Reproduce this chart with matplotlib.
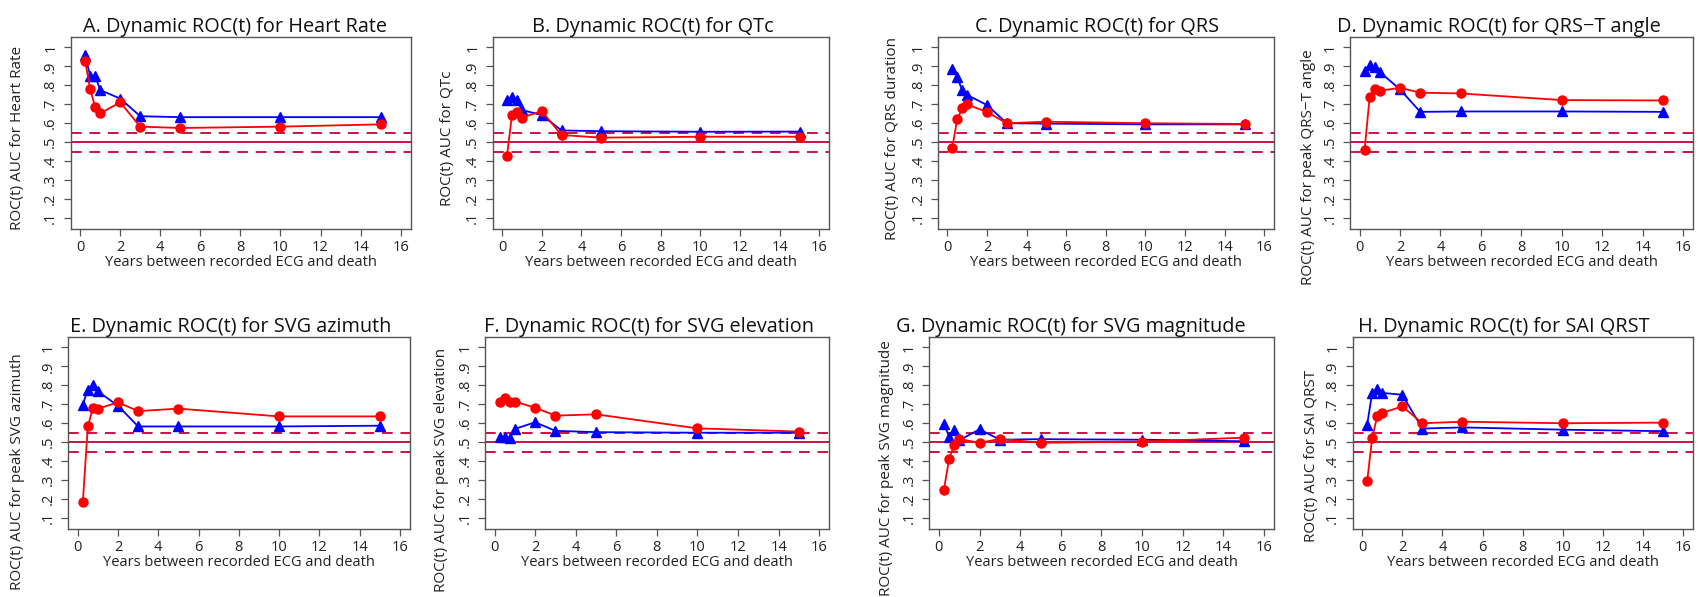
import matplotlib
matplotlib.use("Agg")
import matplotlib.pyplot as plt

plt.rcParams['font.family'] = ['Open Sans', 'DejaVu Sans']

years = [0.25, 0.5, 0.75, 1, 2, 3, 5, 10, 15]

titles = [
    "A. Dynamic ROC(t) for Heart Rate",
    "B. Dynamic ROC(t) for QTc",
    "C. Dynamic ROC(t) for QRS",
    "D. Dynamic ROC(t) for QRS\u2212T angle",
    "E. Dynamic ROC(t) for SVG azimuth",
    "F. Dynamic ROC(t) for SVG elevation",
    "G. Dynamic ROC(t) for SVG magnitude",
    "H. Dynamic ROC(t) for SAI QRST",
]
ylabels = [
    "ROC(t) AUC for Heart Rate",
    "ROC(t) AUC for QTc",
    "ROC(t) AUC for QRS duration",
    "ROC(t) AUC for peak QRS\u2212T angle",
    "ROC(t) AUC for peak SVG azimuth",
    "ROC(t) AUC for peak SVG elevation",
    "ROC(t) AUC for peak SVG magnitude",
    "ROC(t) AUC for SAI QRST",
]
xlabel = "Years between recorded ECG and death"

blue_A = [0.96, 0.85, 0.85, 0.775, 0.73, 0.637, 0.632, 0.632, 0.632]
red_A = [0.93, 0.78, 0.687, 0.652, 0.71, 0.582, 0.575, 0.582, 0.594]
blue_B = [0.72, 0.74, 0.72, 0.67, 0.643, 0.562, 0.558, 0.555, 0.556]
red_B = [0.427, 0.643, 0.66, 0.63, 0.664, 0.538, 0.524, 0.529, 0.529]
blue_C = [0.885, 0.842, 0.775, 0.749, 0.696, 0.6, 0.598, 0.594, 0.594]
red_C = [0.471, 0.622, 0.678, 0.699, 0.659, 0.6, 0.608, 0.6, 0.596]
blue_D = [0.875, 0.905, 0.895, 0.87, 0.779, 0.66, 0.662, 0.662, 0.66]
red_D = [0.459, 0.736, 0.779, 0.771, 0.787, 0.761, 0.757, 0.722, 0.72]
blue_E = [0.698, 0.777, 0.8, 0.768, 0.692, 0.583, 0.583, 0.583, 0.587]
red_E = [0.183, 0.583, 0.68, 0.677, 0.71, 0.664, 0.677, 0.636, 0.636]
blue_F = [0.53, 0.53, 0.52, 0.57, 0.605, 0.56, 0.553, 0.55, 0.55]
red_F = [0.713, 0.732, 0.71, 0.714, 0.682, 0.64, 0.647, 0.573, 0.556]
blue_G = [0.598, 0.53, 0.565, 0.51, 0.568, 0.513, 0.516, 0.513, 0.505]
red_G = [0.25, 0.41, 0.485, 0.517, 0.497, 0.517, 0.497, 0.503, 0.524]
blue_H = [0.592, 0.76, 0.78, 0.76, 0.75, 0.572, 0.578, 0.566, 0.558]
red_H = [0.294, 0.522, 0.636, 0.654, 0.689, 0.6, 0.608, 0.6, 0.603]

blue_series = [blue_A, blue_B, blue_C, blue_D, blue_E, blue_F, blue_G, blue_H]
red_series = [red_A, red_B, red_C, red_D, red_E, red_F, red_G, red_H]

yticks = [0.1, 0.2, 0.3, 0.4, 0.5, 0.6, 0.7, 0.8, 0.9, 1.0]
ytick_labels = [".1", ".2", ".3", ".4", ".5", ".6", ".7", ".8", ".9", "1"]
xticks = [0, 2, 4, 6, 8, 10, 12, 14, 16]
ref_solid = 0.5
ref_dashed = [0.45, 0.55]

# ---- layout (pixels) ----
W, H = 1698, 597
# (left, right, top, bottom) of each axes box
boxes = [
    (70.7, 410.7, 37.3, 228.7), (492.7, 829.3, 37.3, 228.7),
    (938.0, 1274.3, 37.3, 228.7), (1350.0, 1693.3, 37.3, 228.7),
    (68.3, 410.0, 337.3, 528.7), (485.0, 829.3, 337.3, 528.7),
    (929.3, 1274.3, 337.3, 528.7), (1352.7, 1693.3, 337.3, 528.7),
]
title_pos = [(235, 21), (653, 21), (1097, 21), (1499, 15),
             (231, 321), (649, 321), (1071, 310), (1504, 310)]
ylabel_pos = [(18, 138), (447, 138), (892, 138), (1308, 167),
              (18, 472), (442, 470), (887, 468), (1312, 456)]
xlabel_y = [263, 263, 263, 262, 563, 563, 563, 563]

ref_color = "#CC1144"
frame_color = "#555555"

fig = plt.figure(figsize=(W / 100, H / 100), dpi=100)

for i in range(8):
    l, r, t, b = boxes[i]
    ax = fig.add_axes([l / W, 1 - b / H, (r - l) / W, (b - t) / H])
    ax.axhline(ref_solid, color=ref_color, lw=1.4, zorder=1)
    for v in ref_dashed:
        ax.axhline(v, color=ref_color, lw=1.4, ls=(0, (5.5, 4)), zorder=1)
    ax.plot(years, blue_series[i], color="blue", lw=1.3, marker="^",
            markersize=7, zorder=3)
    ax.plot(years, red_series[i], color="red", lw=1.3, marker="o",
            markersize=6.5, zorder=4)
    ax.set_xlim(-0.47, 16.5)
    ax.set_ylim(0.044, 1.053)
    ax.set_xticks(xticks)
    ax.set_yticks(yticks)
    ax.set_yticklabels(ytick_labels, rotation=90, va="center")
    ax.tick_params(axis="both", direction="out", length=5, width=0.9,
                   color=frame_color, labelsize=10.5, labelcolor="#222222")
    ax.tick_params(axis="x", pad=3)
    ax.tick_params(axis="y", pad=4)
    for s in ax.spines.values():
        s.set_color(frame_color)
        s.set_linewidth(1.0)
    # x label
    ax.set_xlabel(xlabel, fontsize=10.5, color="#222222")
    xl_y = (b - xlabel_y[i]) / (b - t)
    ax.xaxis.set_label_coords(0.5, xl_y)
    ax.xaxis.label.set_va("center")
    # y label
    ax.set_ylabel(ylabels[i], fontsize=11, color="#222222")
    yx, yy = ylabel_pos[i]
    ax.yaxis.set_label_coords((yx - l) / (r - l), (b - yy) / (b - t))
    ax.yaxis.label.set_va("center")
    ax.yaxis.label.set_ha("center")
    # title
    tx, ty = title_pos[i]
    ax.set_title(titles[i], fontsize=14.3, color="#111111")
    ax.title.set_position(((tx - l) / (r - l), (b - ty) / (b - t)))
    ax.title.set_va("center")
    ax.title.set_ha("center")
    ax.title.set_y((b - ty) / (b - t))

fig.savefig("out.png", dpi=100, facecolor="white")
